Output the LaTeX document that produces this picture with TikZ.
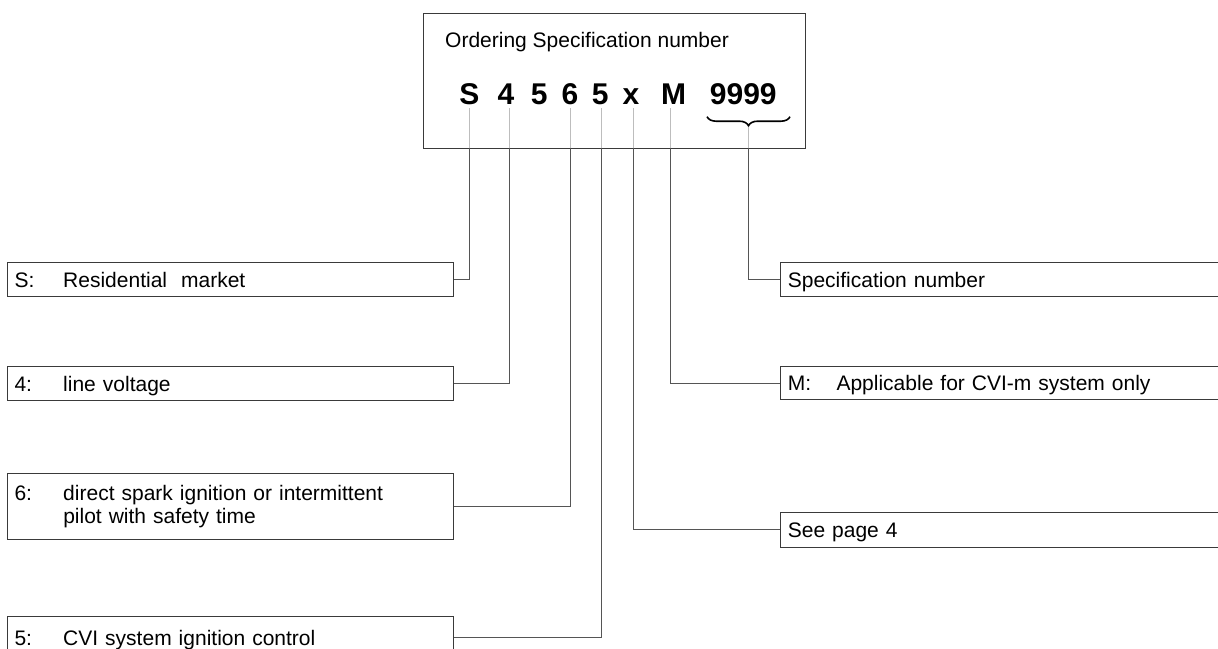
\documentclass[tikz,border=0pt]{standalone}
\usepackage{fontspec}
\setmainfont{Liberation Sans}
\usetikzlibrary{decorations.pathreplacing}
\definecolor{boxc}{HTML}{3A3A3A}
\definecolor{connc}{HTML}{555555}
\definecolor{tickc}{HTML}{BDBDBD}
\newcommand{\labfont}{\fontsize{21}{23}\selectfont}
\newcommand{\codefont}{\fontsize{30}{30}\selectfont\bfseries}
\newcommand{\tg}[1]{\makebox[48.7pt][l]{#1}}
\begin{document}
\begin{tikzpicture}[x=1pt,y=-1pt,
  lbox/.style={draw=boxc, line width=1.1pt, anchor=north west, inner xsep=7.3pt, inner ysep=0pt, align=left, font=\labfont},
  one/.style={text height=15.5pt, text depth=0.5pt},
  code/.style={anchor=base, inner sep=0pt, font=\codefont, text=black},
  conn/.style={draw=connc, line width=1pt},
  tickl/.style={draw=tickc, line width=0.7pt},
  mainbox/.style={draw=boxc, line width=1.1pt, anchor=north west, minimum width=382pt, minimum height=135pt, inner sep=0pt}]
\useasboundingbox (0,0) rectangle (1218,648);
\clip (0,0) rectangle (1218,648);
% main box
\node[mainbox] (main) at (423,13) {};
\node[anchor=base west, inner sep=0pt, font=\fontsize{21}{23}\selectfont] (title) at (445,47) {Ordering Specification number};
% code characters
\node[code] (cS) at (469.3,104.3) {S};
\node[code] (c4) at (506,104.3) {4};
\node[code] (c5a) at (539.3,104.3) {5};
\node[code] (c6) at (570,104.3) {6};
\node[code] (c5b) at (600.3,104.3) {5};
\node[code] (cx) at (631,104.3) {x};
\node[code] (cM) at (673.7,104.3) {M};
\node[code] (c9) at (743.3,104.3) {9999};
% brace
\draw[line width=1.6pt, decorate, decoration={brace, mirror, amplitude=9pt}] (707,116.7) -- (790,116.7);
% tick coordinates at bottom of main box
\coordinate (tS) at (469,148);
\coordinate (t4) at (509,148);
\coordinate (t6) at (570.7,148);
\coordinate (t5) at (601,148);
\coordinate (tx) at (633.5,148);
\coordinate (tM) at (670,148);
\coordinate (t9) at (748.5,148);
% light ticks inside box
\foreach \t in {tS,t4,t6,t5,tx,tM} \draw[tickl] (\t) -- ++(0,-40);
\draw[tickl] (t9) -- ++(0,-21);
% left boxes
\node[lbox, one, text width=431.4pt, minimum height=34pt] (bS) at (6.7,262) {\tg{S:}Residential\ \ market};
\node[lbox, one, text width=431.4pt, minimum height=34pt] (b4) at (6.7,366) {\tg{4:}line voltage};
\node[lbox, text width=431.4pt, minimum height=66pt] (b6) at (6.7,473) {\tg{6:}direct spark ignition or intermittent\\\tg{}pilot with safety time};
\node[lbox, one, text width=431.4pt, minimum height=42pt] (b5) at (6.7,616) {\raisebox{-0.5pt}{\tg{5:}CVI system ignition control}};
% right boxes
\node[lbox, one, text width=445.4pt, minimum height=34pt] (bSp) at (780,262) {Specification number};
\node[lbox, one, text width=445.4pt, minimum height=33pt] (bM) at (780,366) {\tg{M:}Applicable for CVI-m system only};
\node[lbox, one, text width=445.4pt, minimum height=35pt] (bP) at (780,511.7) {See page 4};
% connectors
\draw[conn] (tS) |- (bS.east);
\draw[conn] (t4) |- (b4.east);
\draw[conn] (t6) |- (b6.east);
\draw[conn] (t5) |- (b5.east);
\draw[conn] (tx) |- (bP.west);
\draw[conn] (tM) |- (bM.west);
\draw[conn] (t9) |- (bSp.west);
\end{tikzpicture}
\end{document}
